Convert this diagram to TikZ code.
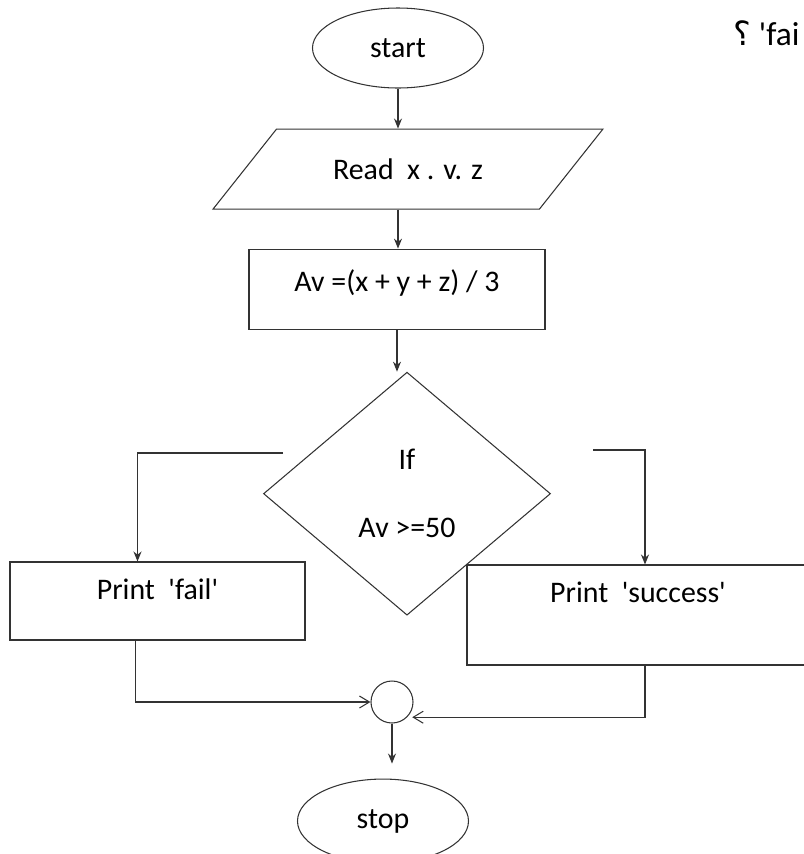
\documentclass[tikz,border=0pt]{standalone}
\usepackage{fontspec}
\setmainfont{Carlito}
\newfontfamily\arabicfont[Script=Arabic]{DejaVu Sans}
\usepackage{tikz}
\usetikzlibrary{arrows.meta, positioning, shapes.geometric}
\definecolor{inkcolor}{HTML}{333333}
\newcommand{\sq}{\textquotesingle}

\begin{document}
\begin{tikzpicture}[
    every node/.style={font=\fontsize{17}{20}\selectfont},
    terminal/.style={ellipse, draw=inkcolor, line width=0.6pt, minimum width=3.42cm,
                     minimum height=1.6cm},
    inout/.style={trapezium, trapezium left angle=40, trapezium right angle=140,
                  trapezium stretches=true, draw=inkcolor, line width=0.6pt,
                  minimum width=7.8cm, minimum height=1.6cm},
    process/.style={rectangle, draw=inkcolor, line width=0.6pt, align=center},
    decision/.style={diamond, draw=inkcolor, line width=0.6pt, inner sep=0pt, align=center,
                     minimum width=5.74cm, minimum height=4.86cm},
    joint/.style={circle, draw=inkcolor, line width=0.6pt, minimum size=0.84cm, inner sep=0pt},
    arrow/.style={-{Stealth[length=2mm, width=1.6mm]}, line width=0.6pt, color=inkcolor},
    barb/.style={-{Straight Barb[length=2mm, width=2.4mm]}, line width=0.6pt, color=inkcolor}
]
    \useasboundingbox (0,0) rectangle (16.08,-17.08);

    \node[terminal] (start) at (7.96,-0.96) {start};
    \node[inout, below=0.8cm of start, xshift=0.2cm] (read) {Read\ \ x . v. z};
    \node[process, below=0.78cm of read, xshift=-0.22cm, text depth=0.34cm,
          minimum width=5.92cm, minimum height=1.6cm] (avg) {Av =(x + y + z) / 3};
    \node[decision, below=0.84cm of avg, xshift=0.2cm] (cond) {If\\[0.66cm]Av >=50};
    \node[process, minimum width=5.9cm, minimum height=1.56cm, text depth=0.46cm]
        (fail) at (3.15,-12.02) {Print\ \ \sq fail\sq};
    \node[process, minimum width=6.84cm, minimum height=2cm, text depth=0.9cm]
        (success) at (12.76,-12.3) {Print\ \ \sq success\sq};
    \node[joint] (join) at (7.84,-14.04) {};
    \node[terminal, below=1.1cm of join, xshift=-0.18cm, minimum height=1.68cm] (stop) {stop};
    \node[anchor=west, font=\fontsize{19}{22}\selectfont] (note) at (14.55,-0.66)
        {{\arabicfont ؟} \sq fai};

    \coordinate (lft) at (5.66,-9.06);
    \coordinate (rgt) at (11.86,-9.0);

    \draw[arrow] (start) -- (start |- read.north);
    \draw[arrow] (start |- read.south) -- (start |- avg.north);
    \draw[arrow] (avg) -- (avg |- cond.north);
    \draw[arrow] (lft) -| ([xshift=-0.4cm]fail.north);
    \draw[arrow] (rgt) -| ([xshift=0.14cm]success.north);
    \draw[barb] ([xshift=-0.44cm]fail.south) |- (join.west);
    \draw[barb] ([xshift=0.14cm]success.south) |- ([xshift=0.1cm]join.south east);
    \draw[arrow, shorten >=0.3cm] (join) -- (join |- stop.north);
\end{tikzpicture}
\end{document}
